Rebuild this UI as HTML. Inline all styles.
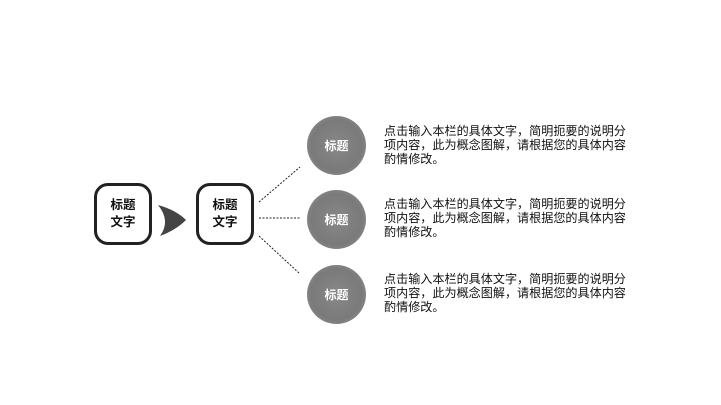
<!DOCTYPE html>
<html><head><meta charset="utf-8"><style>
html,body{margin:0;padding:0;background:#fff;width:721px;height:405px;overflow:hidden;position:relative;font-family:"Liberation Sans","Noto Sans CJK SC",sans-serif}
.box{position:absolute;width:58px;height:62px;border:3px solid #222;border-radius:14px;box-sizing:border-box;display:flex;align-items:center;justify-content:center;text-align:center;font-weight:bold;font-size:12.5px;line-height:17px;color:#111}
.c{position:absolute;width:59px;height:59px;border-radius:50%;background:radial-gradient(circle,#888 0%,#7a7a7a 60%,#9a9a9a 100%);color:#fff;font-weight:bold;font-size:12px;display:flex;align-items:center;justify-content:center}
.t{position:absolute;left:384px;width:260px;font-size:12.1px;line-height:14px;color:#111;white-space:nowrap}
</style></head><body>
<div class="box" style="left:94px;top:183px">标题<br>文字</div>
<div class="box" style="left:196px;top:183px">标题<br>文字</div>
<svg width="721" height="405" style="position:absolute;left:0;top:0">
<path d="M158,205 Q176,210 186,220 Q176,230 160,236 Q171,221 158,205Z" fill="#444"/>
<g stroke="#222" stroke-width="1" stroke-dasharray="2,1.5">
<line x1="259" y1="202" x2="300" y2="167"/>
<line x1="259" y1="218" x2="300" y2="218"/>
<line x1="259" y1="236" x2="300" y2="274"/>
</g>
</svg>
<div class="c" style="left:307px;top:116px">标题</div>
<div class="c" style="left:307px;top:190px">标题</div>
<div class="c" style="left:307px;top:265px">标题</div>
<div class="t" style="top:124px">点击输入本栏的具体文字，简明扼要的说明分<br>项内容，此为概念图解，请根据您的具体内容<br>酌情修改。</div>
<div class="t" style="top:197px">点击输入本栏的具体文字，简明扼要的说明分<br>项内容，此为概念图解，请根据您的具体内容<br>酌情修改。</div>
<div class="t" style="top:272px">点击输入本栏的具体文字，简明扼要的说明分<br>项内容，此为概念图解，请根据您的具体内容<br>酌情修改。</div>
</body></html>
